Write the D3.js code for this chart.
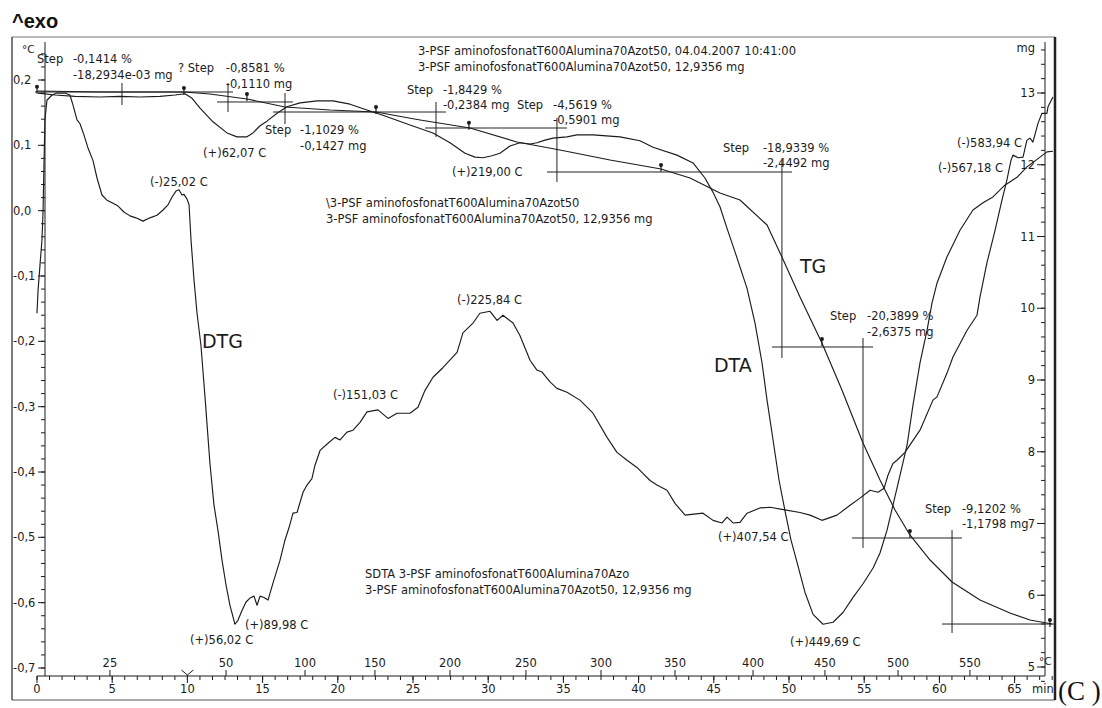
<!DOCTYPE html>
<html><head><meta charset="utf-8">
<script src="https://cdn.jsdelivr.net/npm/d3@7"></script>
<style>
html,body{margin:0;padding:0;background:#fff;}
svg{display:block;font-family:"DejaVu Sans",Verdana,sans-serif;}
</style></head><body>
<svg id="chart" width="1102" height="708"></svg>
<script>
// ---------- DATA (time in min; DTA/DTG on left scale; TG in mg) ----------
const dtgPoints = [[0,-0.157],[0.07,-0.122],[0.2,-0.083],[0.33,-0.045],[0.4,-0.004],[0.47,0.078],[0.53,0.139],[0.66,0.169],[1.0,0.177],[1.33,0.180],[1.86,0.180],[2.19,0.177],[2.39,0.162],[2.66,0.139],[2.86,0.133],[3.12,0.116],[3.39,0.096],[3.72,0.077],[3.99,0.050],[4.32,0.024],[4.65,0.016],[4.99,0.012],[5.39,0.007],[5.78,-0.002],[6.18,-0.008],[6.58,-0.011],[7.05,-0.016],[7.51,-0.011],[7.98,-0.007],[8.38,0.001],[8.71,0.009],[8.98,0.021],[9.24,0.030],[9.44,0.032],[9.64,0.024],[9.77,0.025],[9.97,0.018],[10.11,0.009],[10.24,-0.045],[10.44,-0.106],[10.64,-0.157],[10.90,-0.206],[11.17,-0.285],[11.50,-0.387],[11.77,-0.451],[12.03,-0.489],[12.30,-0.535],[12.57,-0.573],[12.83,-0.604],[13.16,-0.633],[13.36,-0.627],[13.63,-0.612],[13.90,-0.599],[14.16,-0.593],[14.43,-0.590],[14.63,-0.604],[14.83,-0.590],[15.09,-0.592],[15.36,-0.596],[15.69,-0.570],[16.16,-0.535],[16.49,-0.504],[16.76,-0.485],[17.02,-0.463],[17.29,-0.462],[17.69,-0.431],[17.95,-0.420],[18.28,-0.410],[18.48,-0.390],[18.82,-0.367],[19.35,-0.356],[19.81,-0.347],[20.15,-0.351],[20.61,-0.339],[21.01,-0.336],[21.48,-0.324],[21.94,-0.308],[22.67,-0.305],[23.34,-0.318],[23.94,-0.310],[24.80,-0.310],[25.33,-0.301],[25.80,-0.275],[26.33,-0.255],[27.00,-0.240],[27.93,-0.217],[28.32,-0.187],[28.99,-0.172],[29.45,-0.157],[30.12,-0.154],[30.59,-0.168],[30.98,-0.160],[31.65,-0.172],[32.11,-0.191],[32.78,-0.229],[33.24,-0.244],[33.58,-0.247],[34.11,-0.262],[34.57,-0.272],[35.24,-0.278],[36.10,-0.290],[36.97,-0.310],[37.90,-0.347],[38.56,-0.370],[39.23,-0.382],[39.89,-0.393],[40.29,-0.402],[40.76,-0.413],[41.22,-0.420],[41.89,-0.428],[42.42,-0.448],[43.09,-0.466],[44.28,-0.463],[44.95,-0.474],[45.55,-0.478],[45.88,-0.469],[46.28,-0.478],[46.74,-0.477],[47.21,-0.463],[48.07,-0.455],[48.74,-0.454],[49.73,-0.458],[50.73,-0.462],[51.40,-0.466],[52.19,-0.474],[53.19,-0.466],[54.06,-0.451],[54.72,-0.440],[55.39,-0.428],[55.92,-0.431],[56.32,-0.425],[56.58,-0.405],[56.91,-0.387],[57.18,-0.382],[57.71,-0.370],[58.71,-0.336],[59.57,-0.290],[59.84,-0.285],[60.50,-0.249],[60.90,-0.224],[61.84,-0.183],[62.50,-0.160],[62.70,-0.132],[63.16,-0.080],[63.70,-0.030],[64.16,0.016],[64.49,0.047],[64.76,0.077],[64.89,0.085],[65.23,0.081],[65.56,0.082],[65.82,0.108],[66.02,0.111],[66.22,0.105],[66.56,0.134],[66.82,0.149],[67.15,0.149],[67.22,0.159],[67.55,0.174]];

const dtaPoints = [[0.07,0.180],[1.20,0.177],[2.53,0.175],[4.19,0.174],[5.52,0.175],[6.85,0.174],[8.18,0.175],[9.18,0.177],[9.84,0.179],[10.31,0.172],[10.84,0.157],[11.70,0.136],[12.63,0.119],[13.30,0.113],[13.96,0.113],[14.36,0.119],[14.83,0.130],[15.29,0.137],[15.96,0.149],[16.62,0.159],[17.49,0.165],[18.62,0.168],[19.68,0.168],[20.81,0.163],[21.94,0.154],[23.14,0.145],[24.80,0.131],[26.33,0.119],[27.46,0.104],[28.46,0.088],[29.12,0.082],[29.65,0.081],[30.25,0.084],[30.78,0.088],[31.45,0.099],[32.11,0.104],[32.78,0.102],[33.24,0.104],[33.78,0.108],[34.31,0.111],[35.24,0.113],[35.90,0.116],[36.97,0.116],[38.76,0.113],[40.09,0.107],[40.96,0.097],[42.55,0.085],[43.62,0.073],[44.41,0.050],[44.95,0.028],[45.41,0.006],[45.88,-0.027],[46.41,-0.063],[47.21,-0.119],[47.74,-0.172],[48.20,-0.232],[48.54,-0.290],[48.94,-0.351],[49.34,-0.413],[49.73,-0.459],[50.13,-0.504],[50.53,-0.538],[51.06,-0.584],[51.60,-0.618],[52.26,-0.633],[52.93,-0.630],[53.59,-0.615],[54.26,-0.592],[54.92,-0.571],[55.59,-0.547],[56.05,-0.524],[56.52,-0.489],[56.91,-0.451],[57.38,-0.405],[57.85,-0.359],[58.24,-0.298],[58.71,-0.233],[59.18,-0.183],[59.51,-0.141],[59.84,-0.111],[60.50,-0.071],[61.37,-0.030],[62.23,0.001],[62.90,0.012],[63.56,0.021],[64.30,0.038],[65.16,0.051],[65.82,0.067],[66.69,0.082],[67.15,0.090],[67.55,0.091]];

const tgPoints = [[0,13.028],[4.19,13.014],[9.77,13.014],[11.50,12.986],[13.96,12.916],[16.49,12.805],[19.48,12.763],[22.54,12.735],[25.47,12.624],[28.79,12.512],[31.91,12.317],[34.77,12.206],[38.10,12.066],[41.49,11.941],[43.42,11.815],[45.41,11.606],[46.74,11.509],[48.54,11.160],[49.53,10.714],[50.73,10.157],[52.19,9.516],[53.52,8.861],[54.92,8.122],[56.05,7.606],[57.05,7.188],[58.04,6.840],[59.38,6.491],[60.84,6.185],[62.70,5.934],[64.69,5.753],[66.02,5.655],[67.49,5.599]];

// step constructions on the TG curve (time, mg)
const stepLevels = [[-0.13,13.03,13.014],[11.97,17.02,12.875],[15.69,27.19,12.735],[25.80,35.24,12.512],[33.91,50.20,11.899],[48.87,55.59,9.460],[54.19,61.50,6.798],[60.17,67.69,5.599]];
const stepCuts = [[5.65,13.139,12.833],[12.70,13.139,12.735],[16.49,13.0,12.568],[26.53,12.875,12.387],[34.57,12.652,11.760],[49.53,12.066,9.307],[54.92,9.585,6.659],[60.84,6.909,5.474]];
const stepPins = [[0,13.03],[9.77,13.014],[13.96,12.93],[22.54,12.75],[28.72,12.53],[41.49,11.94],[52.19,9.516],[58.04,6.84],[67.35,5.60]];

const stepWords = ["Step","? Step","Step","Step","Step","Step","Step","Step"];
const stepPercents = ["-0,1414 %","-0,8581 %","-1,1029 %","-1,8429 %","-4,5619 %","-18,9339 %","-20,3899 %","-9,1202 %"];
const stepMasses = ["-18,2934e-03 mg","-0,1110 mg","-0,1427 mg","-0,2384 mg","-0,5901 mg","-2,4492 mg","-2,6375 mg","-1,1798 mg"];
const stepWordTimes = [0.0,9.38,15.16,24.60,31.91,45.61,52.73,59.04];
const stepValueTimes = [2.39,12.55,17.49,26.99,34.31,48.27,55.19,61.50];
const stepLabelLevels = [0.226,0.212,0.117,0.179,0.156,0.090,-0.168,-0.462];

const peakTexts = ["(+)62,07 C","(-)25,02 C","(+)219,00 C","(-)151,03 C","(-)225,84 C","(+)89,98 C","(+)56,02 C","(+)407,54 C","(+)449,69 C","(-)583,94 C","(-)567,18 C"];
const peakTimes = [11.04,7.51,27.59,19.68,27.93,13.83,10.17,45.28,50.07,61.17,59.91];
const peakLevels = [0.082,0.038,0.053,-0.289,-0.143,-0.641,-0.664,-0.506,-0.667,0.097,0.059];

const curveNames = ["DTG","DTA","TG"];
const curveNameTimes = [10.97,45.01,50.73];
const curveNameLevels = [-0.210,-0.247,-0.096];

const leftTicks = [0.2,0.1,0.0,-0.1,-0.2,-0.3,-0.4,-0.5,-0.6,-0.7];
const rightTicks = [13,12,11,10,9,8,7,6,5];
const timeTicks = [0,5,10,15,20,25,30,35,40,45,50,55,60,65];
const tempLabels = [25,50,100,150,200,250,300,350,400,450,500,550];
const tempLabelTimes = [4.85,12.57,17.82,22.47,27.46,32.51,37.50,42.42,47.61,52.39,57.25,62.03];

const headerLines = ["3-PSF aminofosfonatT600Alumina70Azot50, 04.04.2007 10:41:00","3-PSF aminofosfonatT600Alumina70Azot50, 12,9356 mg"];
const tgLegendLines = ["\\3-PSF aminofosfonatT600Alumina70Azot50","3-PSF aminofosfonatT600Alumina70Azot50, 12,9356 mg"];
const dtaLegendLines = ["SDTA 3-PSF aminofosfonatT600Alumina70Azo","3-PSF aminofosfonatT600Alumina70Azot50, 12,9356 mg"];

// ---------- SCALES ----------
const svg = d3.select("#chart");
const x = d3.scaleLinear().domain([0,65]).range([37,1014.6]);
const yL = d3.scaleLinear().domain([0.2,-0.7]).range([80,668]);
const yR = d3.scaleLinear().domain([13,5]).range([93,667]);
const ink = "#1c1c1c";
const fs = "11.5px";
const axLeftX = 45, axRightX = 1045, axTop = 42, axBottom = 676;

// ---------- FRAME ----------
const frame = svg.append("g");
frame.append("line").attr("x1",12).attr("x2",1055).attr("y1",37).attr("y2",37).attr("stroke","#777").attr("stroke-width",1);
frame.append("line").attr("x1",12).attr("x2",12).attr("y1",37).attr("y2",700).attr("stroke","#333").attr("stroke-width",1.3);
frame.append("line").attr("x1",12).attr("x2",1055).attr("y1",700).attr("y2",700).attr("stroke","#555").attr("stroke-width",1);
frame.append("line").attr("x1",1055).attr("x2",1055).attr("y1",37).attr("y2",700).attr("stroke","#222").attr("stroke-width",2.5);

svg.append("text").attr("x",12).attr("y",28).attr("font-family","'Liberation Sans',Arial,sans-serif")
  .attr("font-weight","bold").attr("font-size","20px").attr("fill","#111").text("^exo");
svg.append("text").attr("x",1058).attr("y",700).attr("font-family","'Liberation Serif','Times New Roman',serif")
  .attr("font-size","27px").attr("fill","#111").text("(C )");

// ---------- LEFT AXIS ----------
const ax = svg.append("g").attr("stroke",ink).attr("stroke-width",1);
ax.append("line").attr("x1",axLeftX).attr("x2",axLeftX).attr("y1",axTop).attr("y2",axBottom);
ax.selectAll(".lminor").data(d3.range(-0.70,0.245,0.02)).join("line")
  .attr("x1",axLeftX-4).attr("x2",axLeftX).attr("y1",d=>yL(d)).attr("y2",d=>yL(d));
ax.selectAll(".lmajor").data(leftTicks).join("line")
  .attr("x1",axLeftX-7).attr("x2",axLeftX).attr("y1",d=>yL(d)).attr("y2",d=>yL(d));
svg.selectAll(".lt").data(leftTicks).join("text")
  .attr("x",13).attr("y",d=>yL(d)).attr("dy","0.35em").attr("font-size",fs).attr("fill",ink)
  .text(d=>d.toFixed(1).replace(".",",").replace("-0,0","0,0"));
svg.append("text").attr("x",22).attr("y",53).attr("font-size","10.5px").attr("fill",ink).text("°C");

// ---------- RIGHT AXIS ----------
ax.append("line").attr("x1",axRightX).attr("x2",axRightX).attr("y1",axTop).attr("y2",axBottom);
ax.selectAll(".rminor").data(d3.range(4.8,13.65,0.2)).join("line")
  .attr("x1",axRightX-4).attr("x2",axRightX).attr("y1",d=>yR(d)).attr("y2",d=>yR(d));
ax.selectAll(".rmajor").data(rightTicks).join("line")
  .attr("x1",axRightX-8).attr("x2",axRightX).attr("y1",d=>yR(d)).attr("y2",d=>yR(d));
svg.selectAll(".rt").data(rightTicks).join("text")
  .attr("x",1035).attr("y",d=>yR(d)).attr("dy","0.35em").attr("text-anchor","end").attr("font-size",fs).attr("fill",ink)
  .text(d=>d);
svg.append("text").attr("x",1035).attr("y",52).attr("text-anchor","end").attr("font-size",fs).attr("fill",ink).text("mg");

// ---------- BOTTOM AXIS (time + temperature) ----------
ax.append("line").attr("x1",x(0)).attr("x2",axRightX).attr("y1",axBottom).attr("y2",axBottom);
ax.selectAll(".tminor").data(d3.range(0,67.6,5/6)).join("line")
  .attr("x1",d=>x(d)).attr("x2",d=>x(d)).attr("y1",axBottom).attr("y2",axBottom+4);
ax.selectAll(".tmajor").data(timeTicks).join("line")
  .attr("x1",d=>x(d)).attr("x2",d=>x(d)).attr("y1",axBottom).attr("y2",axBottom+7);
ax.selectAll(".cmajor").data(tempLabelTimes).join("line")
  .attr("x1",d=>x(d)).attr("x2",d=>x(d)).attr("y1",axBottom-6).attr("y2",axBottom);
svg.selectAll(".tl").data(timeTicks).join("text")
  .attr("x",d=>x(d)).attr("y",693).attr("text-anchor","middle").attr("font-size",fs).attr("fill",ink).text(d=>d);
svg.selectAll(".cl").data(tempLabels).join("text")
  .attr("x",(d,i)=>x(tempLabelTimes[i])).attr("y",667).attr("text-anchor","middle").attr("font-size",fs).attr("fill",ink).text(d=>d);
svg.append("text").attr("x",1032).attr("y",693).attr("font-size",fs).attr("fill",ink).text("min");
svg.append("text").attr("x",1039).attr("y",665).attr("font-size","10.5px").attr("fill",ink).text("°C");
// heating-start marker at 10 min
svg.append("path").attr("fill","none").attr("stroke",ink).attr("stroke-width",1)
  .attr("d",`M${x(10)-6},${axBottom-6}L${x(10)},${axBottom-1}L${x(10)+6},${axBottom-6}M${x(10)},${axBottom-1}V${axBottom}`);

// ---------- STEP CONSTRUCTIONS ----------
const st = svg.append("g").attr("stroke","#222").attr("stroke-width",1);
st.selectAll(".sh").data(stepLevels).join("line")
  .attr("x1",d=>x(d[0])).attr("x2",d=>x(d[1])).attr("y1",d=>yR(d[2])).attr("y2",d=>yR(d[2]));
st.selectAll(".sv").data(stepCuts).join("line")
  .attr("x1",d=>x(d[0])).attr("x2",d=>x(d[0])).attr("y1",d=>yR(d[1])).attr("y2",d=>yR(d[2]));
const pins = svg.append("g").selectAll("g").data(stepPins).join("g")
  .attr("transform",d=>`translate(${x(d[0])},${yR(d[1])})`);
pins.append("line").attr("y1",-5).attr("y2",3).attr("stroke",ink).attr("stroke-width",1.2);
pins.append("circle").attr("cy",-4).attr("r",2).attr("fill",ink);

// ---------- CURVES ----------
const lineL = d3.line().x(d=>x(d[0])).y(d=>yL(d[1]));
const lineR = d3.line().x(d=>x(d[0])).y(d=>yR(d[1]));
const cv = svg.append("g").attr("fill","none").attr("stroke",ink).attr("stroke-width",1.15).attr("stroke-linejoin","round");
cv.append("path").attr("d",lineL(dtgPoints));
cv.append("path").attr("d",lineL(dtaPoints));
cv.append("path").attr("d",lineR(tgPoints));

// ---------- TEXT ANNOTATIONS ----------
const tx = svg.append("g").attr("font-size",fs).attr("fill",ink);
stepWords.forEach((w,i)=>{
  const yb = yL(stepLabelLevels[i]);
  tx.append("text").attr("x",x(stepWordTimes[i])).attr("y",yb).text(w);
  tx.append("text").attr("x",x(stepValueTimes[i])).attr("y",yb).text(stepPercents[i]);
  tx.append("text").attr("x",x(stepValueTimes[i])).attr("y",yb+15.5).text(stepMasses[i]);
});
peakTexts.forEach((p,i)=>{
  tx.append("text").attr("x",x(peakTimes[i])).attr("y",yL(peakLevels[i])).text(p);
});
curveNames.forEach((n,i)=>{
  svg.append("text").attr("x",x(curveNameTimes[i])).attr("y",yL(curveNameLevels[i]))
    .attr("font-size","19px").attr("fill",ink).text(n);
});
headerLines.forEach((l,i)=>tx.append("text").attr("x",418).attr("y",55+16*i).text(l));
tgLegendLines.forEach((l,i)=>tx.append("text").attr("x",326).attr("y",207+15.5*i).text(l));
dtaLegendLines.forEach((l,i)=>tx.append("text").attr("x",365).attr("y",578+15.5*i).text(l));
</script>
</body></html>
